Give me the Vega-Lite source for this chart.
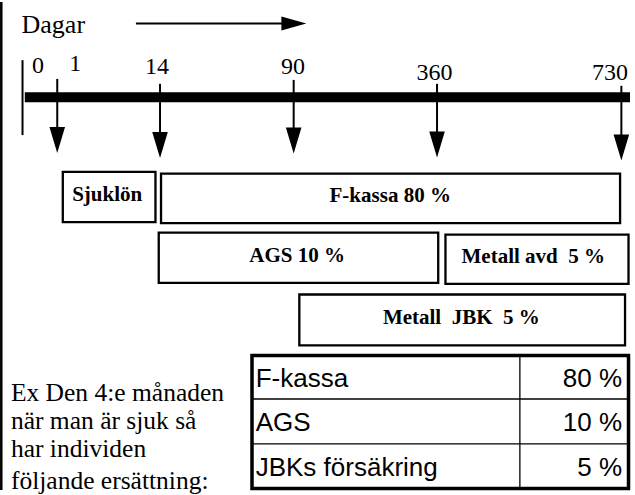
{
  "$schema": "https://vega.github.io/schema/vega-lite/v6.json",
  "width": 635,
  "height": 495,
  "autosize": {"type": "fit", "contains": "padding"},
  "padding": 0,
  "background": "white",
  "config": {"view": {"stroke": null}},
  "datasets": {
    "kant": [{"del": "ram", "x": 1.3, "y": 0, "y2": 495}],
    "linjer": [
      {"del": "Dagar-pil", "x": 137, "x2": 285, "y": 21.7, "y2": 21.7},
      {"del": "start", "x": 22.7, "x2": 22.7, "y": 59, "y2": 135},
      {"del": "pil", "dag": 1, "x": 57.7, "x2": 57.7, "y": 78, "y2": 130},
      {"del": "pil", "dag": 14, "x": 161.3, "x2": 161.3, "y": 83, "y2": 135},
      {"del": "pil", "dag": 90, "x": 296, "x2": 296, "y": 79, "y2": 131},
      {"del": "pil", "dag": 360, "x": 440.5, "x2": 440.5, "y": 83, "y2": 135},
      {"del": "pil", "dag": 730, "x": 626.3, "x2": 626.3, "y": 85, "y2": 138}
    ],
    "tidslinje": [{"del": "tidslinje", "x": 25, "x2": 635, "y": 96.7, "y2": 96.7}],
    "pilspetsar": [
      {"dag": 1, "x": 57.7, "y": 140},
      {"dag": 14, "x": 161.3, "y": 145},
      {"dag": 90, "x": 296, "y": 140.5},
      {"dag": 360, "x": 440.5, "y": 144.5},
      {"dag": 730, "x": 626.3, "y": 147.5}
    ],
    "dagarpil": [{"del": "Dagar-pilspets", "x": 296.2, "y": 21.7}],
    "rutor": [
      {"ersattning": "Sjuklön", "x": 63.3, "x2": 156.7, "y": 172.3, "y2": 223.3},
      {"ersattning": "F-kassa", "x": 162.3, "x2": 625, "y": 174, "y2": 224.3},
      {"ersattning": "AGS", "x": 160, "x2": 441.7, "y": 234, "y2": 285},
      {"ersattning": "Metall avd", "x": 449, "x2": 633.5, "y": 236, "y2": 286},
      {"ersattning": "Metall JBK", "x": 301.7, "x2": 630, "y": 296.7, "y2": 348.3}
    ],
    "rutetext": [
      {"text": "Sjuklön", "x": 108, "y": 201.7},
      {"text": "F-kassa 80 %", "x": 393.3, "y": 203.3},
      {"text": "AGS 10 %", "x": 299.5, "y": 263.3},
      {"text": "Metall avd \u00a05 %", "x": 537.5, "y": 265},
      {"text": "Metall \u00a0JBK \u00a05 %", "x": 465, "y": 326.7}
    ],
    "rubrik": [{"text": "Dagar", "x": 21.7, "y": 31.7}],
    "dagtal": [
      {"text": "0", "x": 38.3, "y": 72},
      {"text": "1", "x": 75.8, "y": 70},
      {"text": "14", "x": 158.3, "y": 73},
      {"text": "90", "x": 295.3, "y": 73},
      {"text": "360", "x": 438, "y": 79},
      {"text": "730", "x": 614.8, "y": 79}
    ],
    "exempel": [
      {"text": "Ex Den 4:e månaden", "x": 11, "y": 405},
      {"text": "när man är sjuk så", "x": 11, "y": 433.5},
      {"text": "har individen", "x": 11, "y": 462},
      {"text": "följande ersättning:", "x": 11, "y": 494}
    ],
    "tabellram": [{"del": "ram", "x": 254, "x2": 633.5, "y": 358.5, "y2": 493.5}],
    "tabellinjer": [
      {"del": "kolumn", "x": 524, "x2": 524, "y": 358.5, "y2": 493.5},
      {"del": "rad", "x": 254, "x2": 633.5, "y": 402.7, "y2": 402.7},
      {"del": "rad", "x": 254, "x2": 633.5, "y": 448.3, "y2": 448.3}
    ],
    "tabell": [
      {"post": "F-kassa", "andel": "80 %", "x": 257.7, "xv": 627, "y": 390.5},
      {"post": "AGS", "andel": "10 %", "x": 257.7, "xv": 627, "y": 435.5},
      {"post": "JBKs försäkring", "andel": "5 %", "x": 257.7, "xv": 627, "y": 480.5}
    ]
  },
  "encoding": {
    "x": {"field": "x", "type": "quantitative", "scale": {"domain": [0, 635], "nice": false, "zero": false}, "axis": null},
    "y": {"field": "y", "type": "quantitative", "scale": {"domain": [0, 495], "nice": false, "zero": false, "reverse": true}, "axis": null}
  },
  "layer": [
    {
      "data": {"name": "kant"},
      "mark": {"type": "rule", "color": "black", "strokeWidth": 2.5},
      "encoding": {"y2": {"field": "y2"}}
    },
    {
      "data": {"name": "linjer"},
      "mark": {"type": "rule", "color": "black", "strokeWidth": 2},
      "encoding": {"x2": {"field": "x2"}, "y2": {"field": "y2"}}
    },
    {
      "data": {"name": "tidslinje"},
      "mark": {"type": "rule", "color": "black", "strokeWidth": 10, "strokeCap": "butt"},
      "encoding": {"x2": {"field": "x2"}, "y2": {"field": "y2"}}
    },
    {
      "data": {"name": "pilspetsar"},
      "mark": {"type": "point", "shape": "M-0.6,-1L0.6,-1L0,1Z", "size": 676, "filled": true, "color": "black", "opacity": 1, "strokeWidth": 0}
    },
    {
      "data": {"name": "dagarpil"},
      "mark": {"type": "point", "shape": "M-1,-0.56L1,0L-1,0.56Z", "size": 625, "filled": true, "color": "black", "opacity": 1, "strokeWidth": 0}
    },
    {
      "data": {"name": "rutor"},
      "mark": {"type": "rect", "fill": "white", "stroke": "black", "strokeWidth": 2.3},
      "encoding": {"x2": {"field": "x2"}, "y2": {"field": "y2"}}
    },
    {
      "data": {"name": "rutetext"},
      "mark": {"type": "text", "font": "Liberation Serif", "fontWeight": "bold", "fontSize": 21, "align": "center", "baseline": "alphabetic", "color": "black"},
      "encoding": {"text": {"field": "text"}}
    },
    {
      "data": {"name": "rubrik"},
      "mark": {"type": "text", "font": "Liberation Serif", "fontSize": 26, "align": "left", "baseline": "alphabetic", "color": "black"},
      "encoding": {"text": {"field": "text"}}
    },
    {
      "data": {"name": "dagtal"},
      "mark": {"type": "text", "font": "Liberation Serif", "fontSize": 24, "align": "center", "baseline": "alphabetic", "color": "black"},
      "encoding": {"text": {"field": "text"}}
    },
    {
      "data": {"name": "exempel"},
      "mark": {"type": "text", "font": "Liberation Serif", "fontSize": 25.5, "align": "left", "baseline": "alphabetic", "color": "black"},
      "encoding": {"text": {"field": "text"}}
    },
    {
      "data": {"name": "tabellram"},
      "mark": {"type": "rect", "fill": null, "fillOpacity": 0, "stroke": "black", "strokeWidth": 3.5},
      "encoding": {"x2": {"field": "x2"}, "y2": {"field": "y2"}}
    },
    {
      "data": {"name": "tabellinjer"},
      "mark": {"type": "rule", "color": "black", "strokeWidth": 1.3},
      "encoding": {"x2": {"field": "x2"}, "y2": {"field": "y2"}}
    },
    {
      "data": {"name": "tabell"},
      "mark": {"type": "text", "font": "Liberation Sans", "fontSize": 26, "align": "left", "baseline": "alphabetic", "color": "black"},
      "encoding": {"text": {"field": "post"}}
    },
    {
      "data": {"name": "tabell"},
      "mark": {"type": "text", "font": "Liberation Sans", "fontSize": 26, "align": "right", "baseline": "alphabetic", "color": "black"},
      "encoding": {
        "x": {"field": "xv", "type": "quantitative", "scale": {"domain": [0, 635], "nice": false, "zero": false}, "axis": null},
        "text": {"field": "andel"}
      }
    }
  ]
}
